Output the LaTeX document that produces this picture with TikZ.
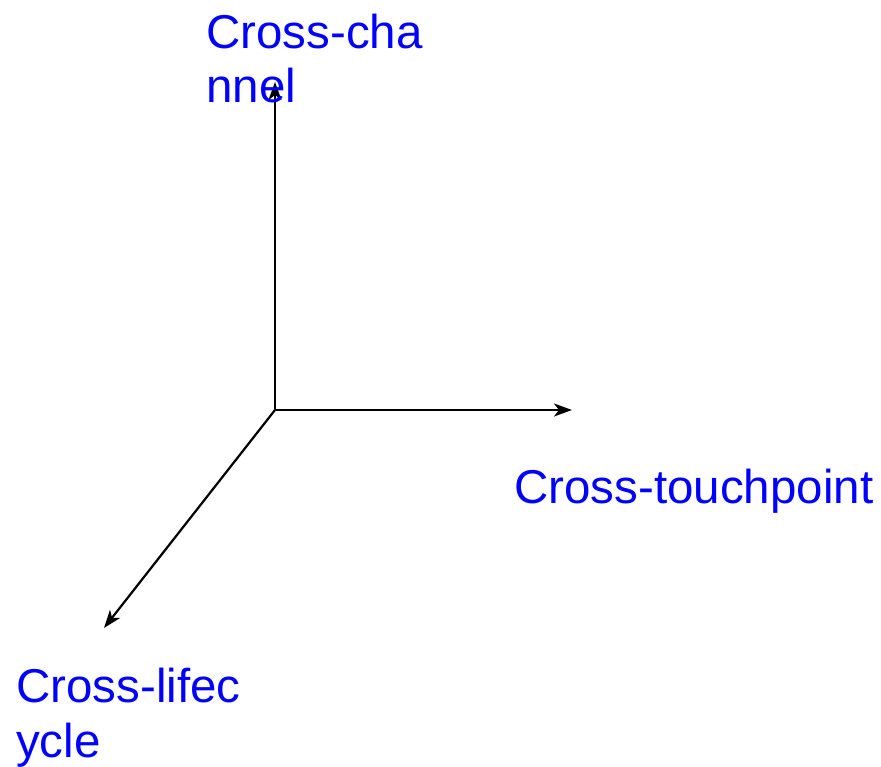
\documentclass[tikz,border=0pt]{standalone}
\usepackage{fontspec}
\setmainfont{Liberation Sans}
\usetikzlibrary{arrows.meta}
\definecolor{lblue}{RGB}{0,0,255}
\tikzset{
  axis/.style={line width=2.2pt, -{Stealth[length=18pt,width=13pt,inset=5pt]}},
  lbl/.style={anchor=base west, inner sep=0pt, text=lblue, align=left,
    font=\fontsize{47.5}{54.5}\selectfont}
}
\begin{document}
\begin{tikzpicture}[x=1pt,y=-1pt]
\useasboundingbox (0,0) rectangle (881,767);
\coordinate (o) at (275,410);
\coordinate (up) at (275,82);
\coordinate (rt) at (572,410);
\coordinate (dl) at (104,628);
\draw[axis] (o) -- (up);
\draw[axis] (o) -- (rt);
\draw[axis] (o) -- (dl);
\node[lbl] (ch) at (206,103) {Cross-cha\\nnel};
\node[lbl] (tp) at (514,503) {Cross-touchpoint};
\node[lbl] (lc) at (16,757) {Cross-lifec\\ycle};
\end{tikzpicture}
\end{document}
